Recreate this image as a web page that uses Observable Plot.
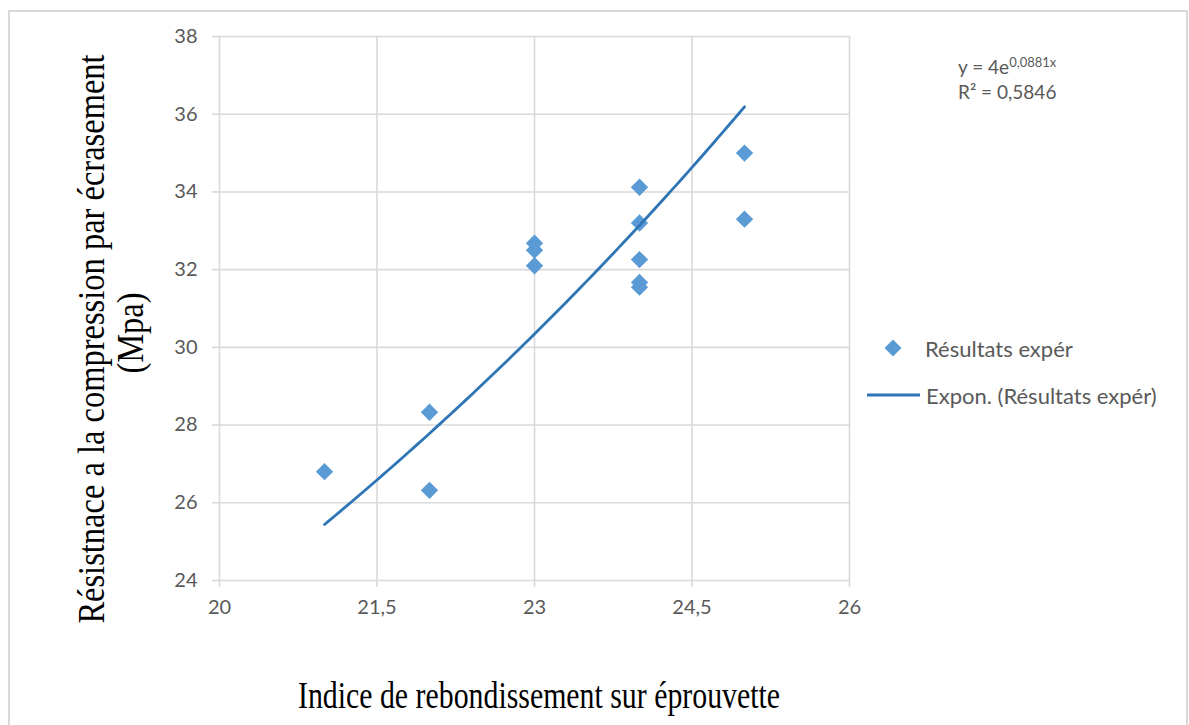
<!DOCTYPE html>
<html>
<head>
<meta charset="utf-8">
<script src="https://cdn.jsdelivr.net/npm/d3@7"></script>
<script src="https://cdn.jsdelivr.net/npm/@observablehq/plot@0.6"></script>
<style>
  html, body { margin: 0; padding: 0; background: #fff; }
  body { width: 1189px; height: 725px; overflow: hidden; position: relative; font-family: Lato, "Open Sans", sans-serif; }
  #frame { position: absolute; left: 8px; top: 10px; width: 1180px; height: 740px; border: 2px solid #d9d9d9; box-sizing: border-box; }
  #chart { position: absolute; left: 0; top: 0; }
  .serif { position: absolute; font-family: "Liberation Serif", "Times New Roman", serif; color: #000; white-space: nowrap; font-size: 38px; line-height: 38px; }
  #xlabel { left: 539px; top: 695px; transform: translate(-50%, -50%) scaleX(0.785); }
  #ylabel1 { left: 91px; top: 339px; transform: translate(-50%, -50%) rotate(-90deg) scaleX(0.855); }
  #ylabel2 { left: 130px; top: 333px; transform: translate(-50%, -50%) rotate(-90deg) scaleX(0.855); }
  .legtext { position: absolute; font-size: 22px; color: #595959; white-space: nowrap; transform: translateY(-50%); }
  #eq { position: absolute; left: 958px; top: 54px; font-size: 19px; color: #595959; line-height: 25px; white-space: nowrap; }
  #eq sup { font-size: 13px; vertical-align: 7px; line-height: 0; }
  #legsvg { position: absolute; left: 0; top: 0; }
</style>
</head>
<body>
<div id="frame"></div>
<div id="chart"></div>
<div id="eq"></div>
<div id="legend"></div>
<div class="serif" id="xlabel"></div>
<div class="serif" id="ylabel1"></div>
<div class="serif" id="ylabel2"></div>
<script>
// ---- data ----
const rebound = [21, 22, 22, 23, 23, 23, 24, 24, 24, 24, 24, 25, 25];
const strength = [26.8, 28.33, 26.32, 32.68, 32.5, 32.1, 34.12, 33.2, 32.26, 31.67, 31.55, 35.0, 33.3];
const xTicks = [20, 21.5, 23, 24.5, 26];
const yTicks = [24, 26, 28, 30, 32, 34, 36, 38];
// trend line shown in the chart: y = 4e^(0,0881x)
const trendA = 4;
const trendB = 0.0881;
const trendLabel = "y = 4e";
const trendExp = "0,0881x";
const r2Label = "R² = 0,5846";
const seriesName = "Résultats expér";
const trendName = "Expon. (Résultats expér)";
const xTitle = "Indice de rebondissement sur éprouvette";
const yTitle1 = "Résistnace a la compression par écrasement";
const yTitle2 = "(Mpa)";

const points = rebound.map((x, i) => ({x, y: strength[i]}));
const xMin = d3.min(rebound), xMax = d3.max(rebound);
const trend = d3.range(0, 81).map(i => {
  const x = xMin + (xMax - xMin) * i / 80;
  return {x, y: trendA * Math.exp(trendB * x)};
});
const fmt = d => String(d).replace(".", ",");

const grid = "#d9d9d9";
const chart = Plot.plot({
  width: 1189,
  height: 725,
  marginLeft: 219,
  marginRight: 340,
  marginTop: 36,
  marginBottom: 145,
  style: {background: "transparent", fontFamily: "Lato, 'Open Sans', sans-serif", fontSize: "20px", color: "#595959"},
  x: {domain: [20, 26]},
  y: {domain: [24, 38]},
  marks: [
    Plot.gridX(xTicks, {stroke: grid, strokeOpacity: 1, strokeWidth: 1.6}),
    Plot.gridY(yTicks, {stroke: grid, strokeOpacity: 1, strokeWidth: 1.6}),
    Plot.axisX(xTicks, {tickSize: 7, tickPadding: 12, stroke: grid, strokeWidth: 1.6, fill: "#595959", tickFormat: fmt, label: null}),
    Plot.axisY(yTicks, {tickSize: 7, tickPadding: 15, stroke: grid, strokeWidth: 1.6, fill: "#595959", tickFormat: fmt, label: null}),
    Plot.dot(points, {x: "x", y: "y", symbol: "diamond2", r: 7.8, fill: "#5b9bd5", stroke: "none"}),
    Plot.line(trend, {x: "x", y: "y", stroke: "#2e75b6", strokeWidth: 2.8})
  ]
});
document.getElementById("chart").appendChild(chart);

document.getElementById("xlabel").textContent = xTitle;
document.getElementById("ylabel1").textContent = yTitle1;
document.getElementById("ylabel2").textContent = yTitle2;
document.getElementById("eq").innerHTML = `${trendLabel}<sup>${trendExp}</sup><br>${r2Label}`;

// legend
const leg = document.getElementById("legend");
leg.innerHTML = `
<svg id="legsvg" width="1189" height="725">
  <path d="M893,339.5 L901.5,348 L893,356.5 L884.5,348 Z" fill="#5b9bd5"/>
  <line x1="867" x2="920" y1="395" y2="395" stroke="#2e75b6" stroke-width="2.8"/>
</svg>
<div class="legtext" style="left:925px;top:348px">${seriesName}</div>
<div class="legtext" style="left:926px;top:395px">${trendName}</div>`;
</script>
</body>
</html>
